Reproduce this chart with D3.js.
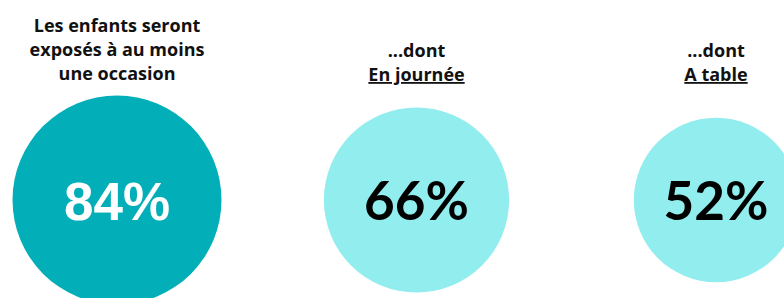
<!DOCTYPE html>
<html>
<head>
<meta charset="utf-8">
<script src="https://cdn.jsdelivr.net/npm/d3@7"></script>
<style>
  body { margin: 0; background: #fff; }
  .title { font-family: "Open Sans", sans-serif; font-weight: bold; font-size: 18px; fill: #111; }
  .pct { font-weight: bold; }
</style>
</head>
<body>
<script>
// data
var keys = ["total", "journee", "table"];
var values = [84, 66, 52];
var titleLines = [
  ["Les enfants seront", "exposés à au moins", "une occasion"],
  ["...dont", "En journée"],
  ["...dont", "A table"]
];
var underlined = [false, true, true];

var width = 784, height = 298;

var svg = d3.select("body").append("svg")
    .attr("width", width)
    .attr("height", height);

var x = d3.scalePoint()
    .domain(keys)
    .range([117, 716]);

var r = d3.scaleSqrt()
    .domain([0, 100])
    .range([0, 114]);

var cy = 200;

var g = svg.selectAll(".item")
    .data(keys)
  .enter().append("g")
    .attr("class", "item")
    .attr("transform", function(d) { return "translate(" + x(d) + ",0)"; });

g.append("circle")
    .attr("cy", cy)
    .attr("r", function(d, i) { return r(values[i]); })
    .attr("fill", function(d, i) { return i == 0 ? "#02AFB8" : "#92EDEE"; });

g.append("text")
    .attr("class", "pct")
    .attr("text-anchor", "middle")
    .attr("y", 220)
    .attr("font-family", function(d, i) { return i == 0 ? "Liberation Sans" : "Lato"; })
    .attr("font-size", 53)
    .attr("fill", function(d, i) { return i == 0 ? "#fff" : "#000"; })
    .text(function(d, i) { return values[i] + "%"; });

g.each(function(d, i) {
    var lines = titleLines[i];
    var base = i == 0 ? 32 : 57;
    lines.forEach(function(line, j) {
        d3.select(this).append("text")
            .attr("class", "title")
            .attr("text-anchor", "middle")
            .attr("y", base + j * 24)
            .style("text-decoration", (underlined[i] && j == lines.length - 1) ? "underline" : "none")
            .text(line);
    }, this);
});
</script>
</body>
</html>
